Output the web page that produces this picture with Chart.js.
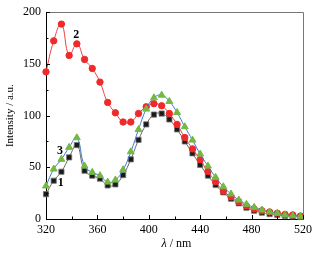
<!DOCTYPE html>
<html><head><meta charset="utf-8">
<script src="https://cdn.jsdelivr.net/npm/chart.js@4"></script>
<style>html,body{margin:0;padding:0;background:#fff;}#c{display:block;}</style>
</head><body>
<canvas id="c" width="326" height="258"></canvas>
<script>
const wavelengths = [320,326,332,338,344,350,356,362,368,374,380,386,392,398,404,410,416,422,428,434,440,446,452,458,464,470,476,482,488,494,500,506,512,518];
const series1 = [24,37,45.7,59.6,71.5,46.7,41.9,39,32.5,33.5,42.5,57.7,76.5,91.5,101,102,96.3,86.7,75,63.5,52.3,42,32.9,25.8,19.6,15.2,10.9,8,6.1,4.8,3.9,2.9,2.6,2];
const series2 = [142.3,172.3,188.5,158.2,169.4,154.3,145.6,132.4,112.7,102.7,93.8,93.8,102,108.5,111.5,109.5,102,91.5,78.8,67.8,57.3,46,36,27,21.5,16.7,12.6,9.7,8,6.8,5.5,4.5,3.9,2.9];
const series3 = [31.9,48.3,57.7,69.3,78.6,51.2,45.1,41.9,35.7,37.7,47.6,65,86.5,106.3,117.2,119.8,113.7,103,89.2,76.3,62.8,51.2,40.3,31.2,24.2,18.4,14.2,11.3,8.7,6.8,5.5,3.9,3.2,2.6];
const xTicks = [320,360,400,440,480,520];
const yTicks = [0,50,100,150,200];
const curveLabels = [{text:'2', x:343.5, y:178.5},{text:'3', x:330.9, y:66},{text:'1', x:331.4, y:35}];

const serif = '"Liberation Serif","DejaVu Serif",serif';
const pts = arr => wavelengths.map((x,i)=>({x:x, y:arr[i]}));

const decor = {
  id:'decor',
  afterDraw(chart){
    const ctx = chart.ctx, a = chart.chartArea, xs = chart.scales.x, ys = chart.scales.y;
    ctx.save();
    // frame top/right
    ctx.strokeStyle = '#777'; ctx.lineWidth = 1;
    ctx.beginPath();
    ctx.moveTo(Math.round(a.left)+0.5, Math.round(a.top)+0.5);
    ctx.lineTo(Math.round(a.right)+0.5, Math.round(a.top)+0.5);
    ctx.lineTo(Math.round(a.right)+0.5, Math.round(a.bottom)+0.5);
    ctx.stroke();
    // inward ticks
    ctx.strokeStyle = '#000';
    ctx.beginPath();
    for (let v = 320; v <= 520; v += 20) {
      const px = Math.round(xs.getPixelForValue(v)) + 0.5;
      const len = ((v - 320) % 40 === 0) ? 4 : 2.5;
      ctx.moveTo(px, a.bottom); ctx.lineTo(px, a.bottom - len);
    }
    for (let v = 0; v <= 200; v += 25) {
      const py = Math.round(ys.getPixelForValue(v)) + 0.5;
      const len = (v % 50 === 0) ? 4 : 2.5;
      ctx.moveTo(a.left, py); ctx.lineTo(a.left + len, py);
    }
    ctx.stroke();
    // curve labels
    ctx.fillStyle = '#000';
    ctx.font = 'bold 12px ' + serif;
    ctx.textAlign = 'center'; ctx.textBaseline = 'middle';
    curveLabels.forEach(l => ctx.fillText(l.text, xs.getPixelForValue(l.x), ys.getPixelForValue(l.y)));
    // x title with italic lambda
    const cx = (a.left + a.right) / 2 + 2, cy = 244;
    ctx.font = 'italic 12px ' + serif;
    const w1 = ctx.measureText('λ').width;
    ctx.font = '12px ' + serif;
    const w2 = ctx.measureText(' / nm').width;
    const sx = cx - (w1 + w2) / 2;
    ctx.textAlign = 'left';
    ctx.font = 'italic 12px ' + serif;
    ctx.fillText('λ', sx, cy);
    ctx.font = '12px ' + serif;
    ctx.fillText(' / nm', sx + w1, cy);
    ctx.restore();
  }
};

new Chart(document.getElementById('c'), {
  type: 'line',
  data: { datasets: [
    { label:'3', data: pts(series3), borderColor:'#3b78cc', borderWidth:1, tension:0.45,
      pointStyle:'triangle', pointRadius:4, pointBackgroundColor:'#74b843', pointBorderColor:'#74b843', pointBorderWidth:1, order:1, clip:6 },
    { label:'2', data: pts(series2), borderColor:'#ee4040', borderWidth:1, tension:0.45,
      pointStyle:'circle', pointRadius:3.2, pointBackgroundColor:'#ee2a2a', pointBorderColor:'#ee2a2a', pointBorderWidth:1, order:2, clip:6 },
    { label:'1', data: pts(series1), borderColor:'#666', borderWidth:1, tension:0.45,
      pointStyle:'rect', pointRadius:3.7, pointBackgroundColor:'#1a1a1a', pointBorderColor:'#777', pointBorderWidth:0.8, order:3, clip:6 }
  ]},
  options: {
    responsive:false, animation:false, events:[],
    plugins:{ legend:{display:false}, tooltip:{enabled:false} },
    layout:{ padding:{ top:12, right:23, left:0, bottom:0 } },
    scales:{
      x:{ type:'linear', min:320, max:520,
        afterBuildTicks(s){ s.ticks = xTicks.map(v=>({value:v})); },
        afterFit(s){ s.height = 39; },
        ticks:{ font:{family:serif, size:12}, color:'#000', padding:4, maxRotation:0, autoSkip:false },
        grid:{ display:false, drawTicks:false },
        border:{ color:'#000', width:1 } },
      y:{ min:0, max:200,
        afterBuildTicks(s){ s.ticks = yTicks.map(v=>({value:v})); },
        afterFit(s){ s.width = 46; },
        ticks:{ font:{family:serif, size:12}, color:'#000', padding:5 },
        grid:{ display:false, drawTicks:false },
        border:{ color:'#000', width:1 },
        title:{ display:true, text:'Intensity / a.u.', font:{family:serif, size:11}, color:'#000', padding:{top:4, bottom:0} } }
    }
  },
  plugins:[decor]
});
</script>
</body></html>
